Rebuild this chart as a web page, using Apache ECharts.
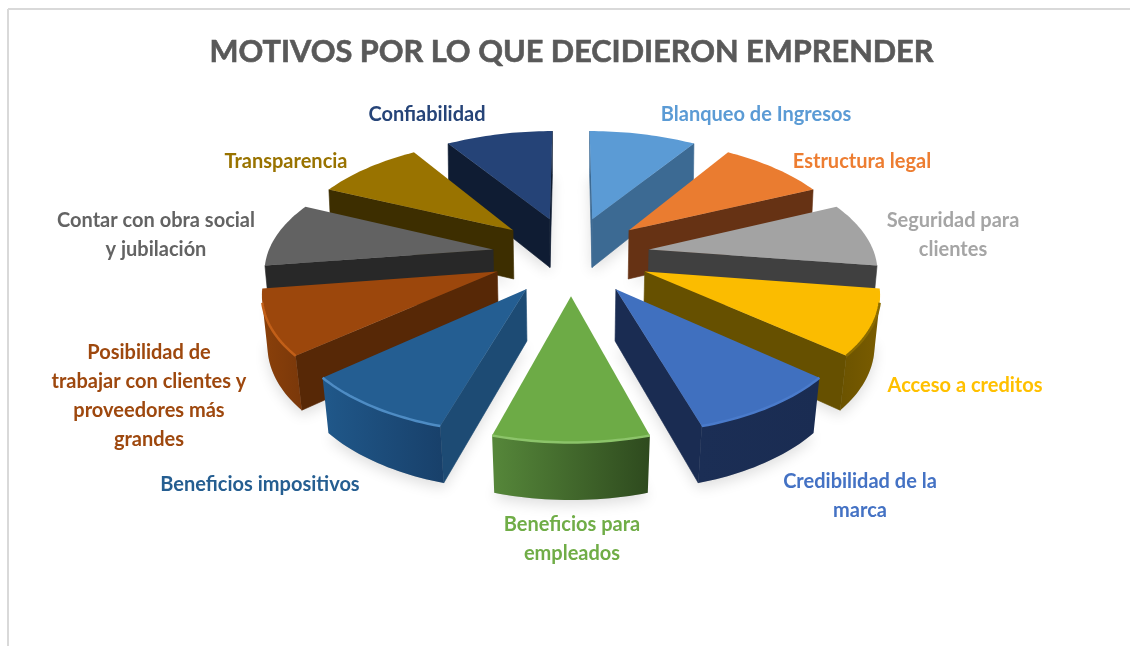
<!DOCTYPE html>
<html><head><meta charset="utf-8">
<style>html,body{margin:0;padding:0;background:#fff}#c{width:1130px;height:646px;filter:blur(0.6px)}</style>
<script src="https://cdn.jsdelivr.net/npm/echarts@6/dist/echarts.min.js"></script>
</head><body><div id="c"></div>
<script>
const chartTitle = 'MOTIVOS POR LO QUE DECIDIERON EMPRENDER';
const categories = ['Blanqueo de Ingresos','Estructura legal','Seguridad para\nclientes','Acceso a creditos','Credibilidad de la\nmarca','Beneficios para\nempleados','Beneficios impositivos','Posibilidad de\ntrabajar con clientes y\nproveedores más\ngrandes','Contar con obra social\ny jubilación','Transparencia','Confiabilidad'];
const values = [9, 9, 9, 9, 9, 9, 9, 9, 9, 9, 9];

// styles
const topColors  = ['#5B9BD5','#EA7C30','#A3A3A3','#FBBC00','#4070BF','#6DAB46','#245E92','#9C470C','#626262','#997300','#254377'];
const sideColors = ['#3C6A93','#663214','#404040','#665000','#1A2C52','#3E6A28','#1D4B74','#572806','#282828','#3D2E00','#0F1C33'];
const wallLeft   = ['#3C6A93','#663214','#5E5E5E','#6B5300','#1B2E55','#56873A','#20588A','#8A400A','#333333','#3D2E00','#0F1C33'];
const wallRight  = ['#3C6A93','#663214','#4A4A4A','#7A5C00','#1A2C52','#2E4A1E','#18406A','#7A380A','#333333','#3D2E00','#0F1C33'];
const rimColors  = ['#6FA8DC','#EA7C30','#8C8C8C','#8A6B00','#4A7BCB','#8CC46A','#4E8CC4','#C25F18','#626262','#997300','#254377'];
const labelColors= ['#5B9BD5','#ED7D31','#A5A5A5','#FFC000','#4472C4','#70AD47','#255E91','#9E480E','#636363','#997300','#264478'];
// layout: label centres and projection constants
const labelCenters = [[756,115],[862,162],[953,235],[965,386],[860,496],[572,539],[260,485],[149,396],[156,235],[286,162],[427,115]];
const CX=571, CY=255, RX=305, RY=150, K=0.2, EXPLODE=0.26, HEIGHT=50;

function project(X,D,bottom){
  const s=1/(1-K*D);
  if(!bottom) return [CX+RX*X*s, CY+RY*D*s];
  return [CX+RX*X*s*(0.985-0.012*D), CY+RY*D*s+HEIGHT*(1+0.15*D)];
}
const total = values.reduce((a,b)=>a+b,0);
const starts=[]; values.reduce((acc,v,i)=>{starts[i]=acc;return acc+v;},0);
const midD = values.map((v,i)=>-Math.cos((starts[i]+v/2)/total*2*Math.PI));
const rank = values.map((v,i)=>midD.filter(d=>d<midD[i]).length + (midD.filter((d,j)=>d===midD[i]&&j<i).length));

function renderSlice(params){
  const i=params.dataIndex, a0=starts[i]/total*2*Math.PI, a1=(starts[i]+values[i])/total*2*Math.PI, m=(a0+a1)/2;
  const ax=EXPLODE*Math.sin(m), ad=-EXPLODE*Math.cos(m), r=1-EXPLODE;
  const STEPS=24, outer=[];
  for(let k=0;k<=STEPS;k++){const t=a0+(a1-a0)*k/STEPS; outer.push([ax+r*Math.sin(t), ad-r*Math.cos(t)]);}
  const T=p=>project(p[0],p[1],false), B=p=>project(p[0],p[1],true);
  const apex=[ax,ad], base=(rank[i]+1)*10;
  const top=[T(apex)].concat(outer.map(T)), bot=[B(apex)].concat(outer.map(B));
  const ch=[];
  ch.push({type:'polygon',z2:0,shape:{points:bot},style:{fill:'rgba(120,120,120,0.35)',shadowBlur:14,shadowColor:'rgba(0,0,0,0.38)',shadowOffsetY:5}});
  const vis=(P,Q,Pb)=>{const dx=Q[0]-P[0],dy=Q[1]-P[1],vx=Pb[0]-P[0],vy=Pb[1]-P[1];return vx*dy-vy*dx>0;};
  const wall=(pts,fill,z)=>({type:'polygon',z2:z,shape:{points:pts},style:{fill,stroke:fill,lineWidth:0.6}});
  const tA=top[0], bA=bot[0], t1=top[1], b1=bot[1], t2=top[STEPS+1], b2=bot[STEPS+1];
  if(vis(tA,t1,bA)) ch.push(wall([tA,t1,b1,bA],sideColors[i],base));
  if(vis(t2,tA,bA)) ch.push(wall([t2,tA,bA,b2],sideColors[i],base));
  const arcIdx=[];
  for(let k=1;k<=STEPS;k++){ if(vis(top[k],top[k+1],bot[k])){ if(arcIdx.length===0||arcIdx[arcIdx.length-1]!==k) arcIdx.push(k); arcIdx.push(k+1);} }
  if(arcIdx.length){
    const tp=arcIdx.map(k=>top[k]), bp=arcIdx.map(k=>bot[k]).reverse();
    ch.push({type:'polygon',z2:base+1,shape:{points:tp.concat(bp)},style:{fill:{type:'linear',x:0,y:0,x2:1,y2:0,colorStops:[{offset:0,color:wallLeft[i]},{offset:1,color:wallRight[i]}]}}});
  }
  ch.push({type:'polygon',z2:base+2,shape:{points:top},style:{fill:topColors[i]}});
  if(arcIdx.length) ch.push({type:'polyline',z2:base+3,shape:{points:arcIdx.map(k=>top[k])},style:{fill:null,stroke:rimColors[i],lineWidth:2.5}});
  ch.push({type:'text',z2:300,style:{text:categories[i],x:labelCenters[i][0],y:labelCenters[i][1],align:'center',verticalAlign:'middle',fill:labelColors[i],font:'bold 20px Lato',lineHeight:29}});
  return {type:'group',children:ch};
}

const chart=echarts.init(document.getElementById('c'),null,{renderer:'canvas'});
chart.setOption({
  animation:false,
  backgroundColor:'#ffffff',
  title:{text:chartTitle,left:566.5,top:32,textAlign:'center',textStyle:{fontFamily:'Lato',fontWeight:'bold',fontSize:30.7,color:'#595959',textBorderColor:'#595959',textBorderWidth:0.6}},
  graphic:[
    {type:'line',shape:{x1:8,y1:9,x2:1130,y2:9},style:{stroke:'#d9d9d9',lineWidth:2},silent:true},
    {type:'line',shape:{x1:8,y1:9,x2:8,y2:646},style:{stroke:'#d9d9d9',lineWidth:2},silent:true}
  ],
  series:[{type:'custom',coordinateSystem:'none',renderItem:renderSlice,clip:false,silent:true,
    data:categories.map((c,i)=>({name:c,value:values[i]}))}]
});
</script></body></html>
